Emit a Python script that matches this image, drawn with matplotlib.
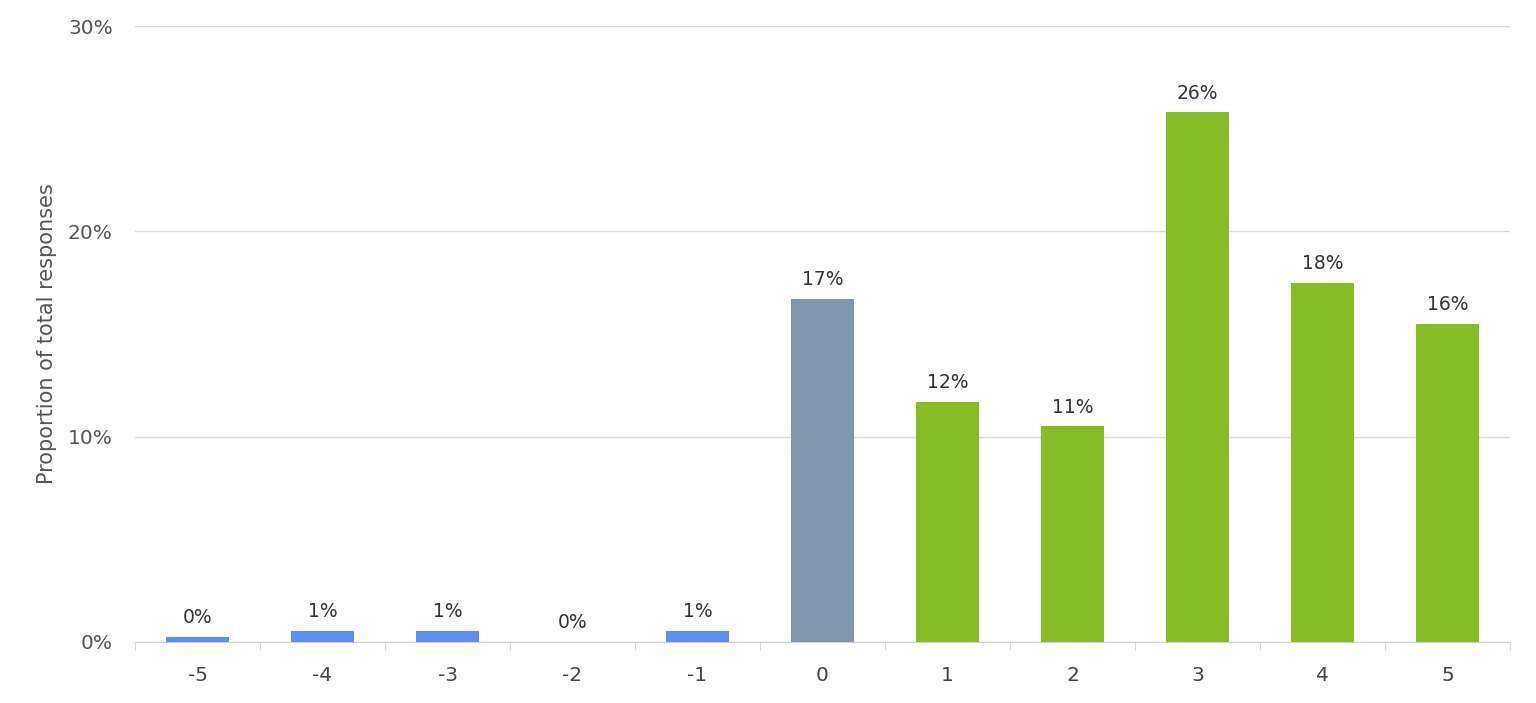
import matplotlib.pyplot as plt
import numpy as np

# survey score categories and share of responses
categories = ["-5", "-4", "-3", "-2", "-1", "0", "1", "2", "3", "4", "5"]
values = [0.0024, 0.0055, 0.0055, 0.0, 0.0055, 0.167, 0.117, 0.105, 0.258, 0.175, 0.155]
labels = ["0%", "1%", "1%", "0%", "1%", "17%", "12%", "11%", "26%", "18%", "16%"]
colors = ["#5b8ff0"] * 5 + ["#8096ae"] + ["#86bc25"] * 5

plt.rcParams["font.family"] = ["DejaVu Sans"]

fig = plt.figure(figsize=(15.36, 7.03), dpi=100)
ax = fig.add_axes([0.0879, 0.0868, 0.8952, 0.8762])

x = np.arange(len(categories))
bars = ax.bar(x, values, width=0.5, color=colors, zorder=3)

for xi, v, lab in zip(x, values, labels):
    ax.annotate(lab, (xi, v), xytext=(0, 7), textcoords="offset points",
                ha="center", va="bottom", fontsize=13.5, color="#333333")

ax.set_xlim(-0.5, len(categories) - 0.5)
ax.set_ylim(0, 0.30)
ax.set_yticks([0, 0.1, 0.2, 0.3])
ax.set_yticklabels(["0%", "10%", "20%", "30%"])
ax.set_xticks(x)
ax.set_xticklabels(categories)
ax.set_xticks(np.arange(-0.5, len(categories)), minor=True)

ax.grid(axis="y", color="#d9d9d9", linewidth=1, zorder=0)
for s in ["top", "right", "left"]:
    ax.spines[s].set_visible(False)
ax.spines["bottom"].set_color("#d0d0d0")

ax.tick_params(axis="x", which="major", length=0, pad=17, labelsize=14.5, labelcolor="#444444")
ax.tick_params(axis="x", which="minor", length=6, color="#d0d0d0")
ax.tick_params(axis="y", length=0, pad=16, labelsize=14.5, labelcolor="#555555")

ax.set_ylabel("Proportion of total responses", fontsize=15, color="#555555", labelpad=8)

fig.savefig("out.png", dpi=100)
